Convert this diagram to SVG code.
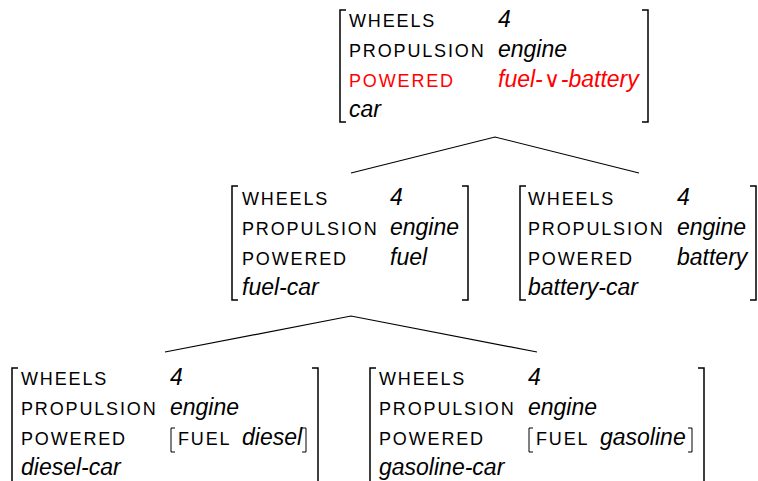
<svg xmlns="http://www.w3.org/2000/svg" width="758" height="481" viewBox="0 0 758 481">
<style>
.f{font-family:"Liberation Sans",Arial,sans-serif;font-size:18px;letter-spacing:1.85px;fill:#000}
.v{font-family:"Liberation Sans",Arial,sans-serif;font-size:23px;font-style:italic;fill:#000}
.r{fill:#f00}
.u{font-family:"DejaVu Sans",sans-serif;font-style:normal;font-weight:200;font-size:22px}
.b{fill:none;stroke:#000;stroke-width:1.5}
.ib{fill:none;stroke:#000;stroke-width:1}
.c{fill:none;stroke:#000;stroke-width:1.2}
</style>
<rect width="758" height="481" fill="#fff"/>
<g id="connectors">
<polyline class="c" points="351,173 495,137 639,173"/>
<polyline class="c" points="165,352 351,316 537,352"/>
</g>
<g id="car">
<path class="b" d="M346,10 H340 V122 H346 M642,10 H648 V122 H642"/>
<text class="f" x="349" y="27">WHEELS</text>
<text class="v" x="498" y="27">4</text>
<text class="f" x="349" y="57">PROPULSION</text>
<text class="v" x="498" y="57">engine</text>
<text class="f r" x="349" y="87">POWERED</text>
<text class="v r" x="498" y="87">fuel-<tspan class="u" dx="1">∨</tspan><tspan dx="1">-battery</tspan></text>
<text class="v" x="349" y="117">car</text>
</g>
<g id="fuel-car">
<path class="b" d="M238,186 H232 V300 H238 M462,186 H468 V300 H462"/>
<text class="f" x="242" y="205">WHEELS</text>
<text class="v" x="390" y="205">4</text>
<text class="f" x="242" y="235">PROPULSION</text>
<text class="v" x="390" y="235">engine</text>
<text class="f" x="242" y="265">POWERED</text>
<text class="v" x="390" y="265">fuel</text>
<text class="v" x="242" y="295">fuel-car</text>
</g>
<g id="battery-car">
<path class="b" d="M526,186 H520 V300 H526 M750,186 H756 V300 H750"/>
<text class="f" x="528" y="205">WHEELS</text>
<text class="v" x="677" y="205">4</text>
<text class="f" x="528" y="235">PROPULSION</text>
<text class="v" x="677" y="235">engine</text>
<text class="f" x="528" y="265">POWERED</text>
<text class="v" x="677" y="265">battery</text>
<text class="v" x="528" y="295">battery-car</text>
</g>
<g id="diesel-car">
<path class="b" d="M18,368 H12 V482 H18 M312,368 H318 V482 H312"/>
<text class="f" x="21" y="385">WHEELS</text>
<text class="v" x="170" y="385">4</text>
<text class="f" x="21" y="415">PROPULSION</text>
<text class="v" x="170" y="415">engine</text>
<text class="f" x="21" y="445">POWERED</text>
<path class="ib" d="M175,428 H171 V452 H175 M302,428 H306 V452 H302"/>
<text class="f" x="178" y="445">FUEL</text>
<text class="v" x="242" y="445">diesel</text>
<text class="v" x="21" y="475">diesel-car</text>
</g>
<g id="gasoline-car">
<path class="b" d="M376,368 H370 V482 H376 M698,368 H704 V482 H698"/>
<text class="f" x="379" y="385">WHEELS</text>
<text class="v" x="528" y="385">4</text>
<text class="f" x="379" y="415">PROPULSION</text>
<text class="v" x="528" y="415">engine</text>
<text class="f" x="379" y="445">POWERED</text>
<path class="ib" d="M533,428 H529 V452 H533 M688,428 H692 V452 H688"/>
<text class="f" x="536" y="445">FUEL</text>
<text class="v" x="600" y="445">gasoline</text>
<text class="v" x="379" y="475">gasoline-car</text>
</g>
</svg>
